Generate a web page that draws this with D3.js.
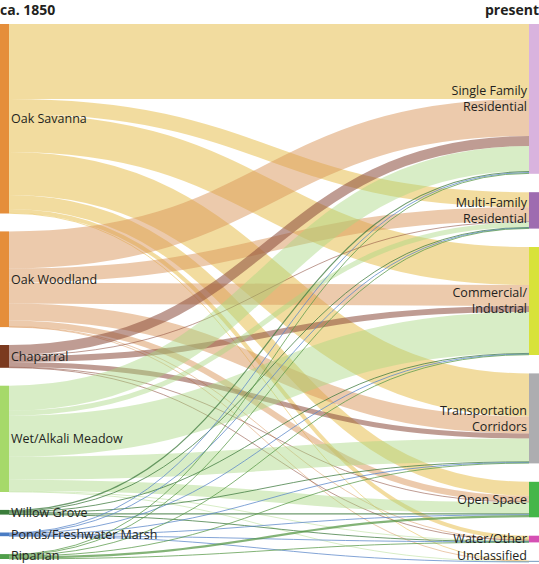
<!DOCTYPE html>
<head>
  <meta charset="utf-8">
  <script src="https://d3js.org/d3.v7.min.js"></script>
  <style>
    body {
      margin: 0;
      font-family: "Open Sans", sans-serif;
      background: #fff;
    }
    text {
      fill: #231f20;
    }
    text.label {
      font-size: 12.5px;
    }
    text.heading {
      font-size: 14px;
      font-weight: bold;
    }
    g.links path {
      fill: none;
    }
  </style>
</head>

<body>
  <div id="chart"></div>

  <script>
    // habitats ca. 1850 (left) and present land use (right)
    var sources = ["Oak Savanna", "Oak Woodland", "Chaparral", "Wet/Alkali Meadow",
                   "Willow Grove", "Ponds/Freshwater Marsh", "Riparian"];
    var targets = ["Single Family Residential", "Multi-Family Residential", "Commercial/ Industrial",
                   "Transportation Corridors", "Open Space", "Water/Other", "Unclassified"];
    var targetLines = [["Single Family", "Residential"], ["Multi-Family", "Residential"],
                       ["Commercial/", "Industrial"], ["Transportation", "Corridors"],
                       ["Open Space"], ["Water/Other"], ["Unclassified"]];

    // flow from each habitat (row) into each present land use (column)
    var flows = [
      [75,  15,  38, 43, 14,  4,   0.5],
      [37,  14,  21, 17, 6,   0.5, 0.2],
      [10,  1,   6,  5,  0.5, 0.3, 0],
      [25,  5,   41, 23, 11,  1,   0.3],
      [1.2, 0.5, 0.8, 0.8, 1.2, 0.2, 0],
      [0.8, 0.5, 0.6, 0.6, 0.6, 0.4, 0.2],
      [0.8, 0.4, 0.6, 0.6, 2.2, 0.3, 0]
    ];

    var sourceColors = ["#e58e3a", "#e58e3a", "#7b3a1f", "#a6d96a", "#3a7d3a", "#4a7cc4", "#4f9e4a"];
    var linkColors = ["#e8c050", "#d9955a", "#8a4a3a", "#a8d880", "#3d7a3d", "#5a86c8", "#5a9a4a"];
    var linkOpacity = [0.55, 0.5, 0.55, 0.45, 0.75, 0.75, 0.75];
    var targetColors = ["#d9b3de", "#9e6cb0", "#d8e23a", "#adadb0", "#45b649", "#d54fb3", "#8aa8c8"];

    var width = 539,
        height = 564,
        yTop = 24,
        leftBottom = 559,
        rightBottom = 562,
        nodeW = 9,
        xLeft = 0,
        xRight = 529;

    var svg = d3.select("#chart").append("svg")
      .attr("width", width)
      .attr("height", height);

    var sourceTotals = flows.map(function(r) { return d3.sum(r); });
    var targetTotals = targets.map(function(t, j) { return d3.sum(flows, function(r) { return r[j]; }); });
    var total = d3.sum(sourceTotals);

    // one value scale for both columns, each column spread over its own extent
    var ky = d3.scaleLinear()
      .domain([0, total])
      .range([0, total * 1.0]);

    function stack(totals, bottom) {
      var pad = ((bottom - yTop) - ky(total)) / (totals.length - 1);
      var y = yTop;
      return totals.map(function(v) {
        var n = {y0: y, y1: y + ky(v)};
        y = n.y1 + pad;
        return n;
      });
    }
    var leftNodes = stack(sourceTotals, leftBottom);
    var rightNodes = stack(targetTotals, rightBottom);

    // link offsets: at source ordered by target, at target ordered by source
    var links = [];
    var sOff = leftNodes.map(function(n) { return n.y0; });
    var tOff = rightNodes.map(function(n) { return n.y0; });
    flows.forEach(function(row, i) {
      row.forEach(function(v, j) {
        if (!v) return;
        links.push({i: i, j: j, v: v});
      });
    });
    links.forEach(function(l) {
      var w = ky(l.v);
      l.w = w;
      l.sy = sOff[l.i] + w / 2; sOff[l.i] += w;
    });
    links.slice().sort(function(a, b) { return a.j - b.j || a.i - b.i; }).forEach(function(l) {
      l.ty = tOff[l.j] + l.w / 2; tOff[l.j] += l.w;
    });

    var link = d3.linkHorizontal();

    svg.append("g").attr("class", "links")
      .selectAll("path")
      .data(links)
      .enter().append("path")
        .attr("d", function(d) {
          return link({source: [xLeft + nodeW, d.sy], target: [xRight, d.ty]});
        })
        .attr("stroke", function(d) { return linkColors[d.i]; })
        .attr("stroke-opacity", function(d) { return linkOpacity[d.i]; })
        .attr("stroke-width", function(d) { return Math.max(1, d.w); });

    svg.append("g")
      .selectAll("rect")
      .data(leftNodes)
      .enter().append("rect")
        .attr("x", xLeft)
        .attr("y", function(d) { return d.y0; })
        .attr("width", nodeW)
        .attr("height", function(d) { return Math.max(1, d.y1 - d.y0); })
        .attr("fill", function(d, i) { return sourceColors[i]; });

    svg.append("g")
      .selectAll("rect")
      .data(rightNodes)
      .enter().append("rect")
        .attr("x", xRight)
        .attr("y", function(d) { return d.y0; })
        .attr("width", nodeW + 1)
        .attr("height", function(d) { return Math.max(1, d.y1 - d.y0); })
        .attr("fill", function(d, i) { return targetColors[i]; });

    // keep labels of the lowest nodes inside the picture
    function labelY(d) {
      return Math.min((d.y0 + d.y1) / 2, height - 8);
    }

    svg.append("g")
      .selectAll("text")
      .data(leftNodes)
      .enter().append("text")
        .attr("class", "label")
        .attr("x", xLeft + nodeW + 2)
        .attr("y", labelY)
        .attr("dy", "0.35em")
        .text(function(d, i) { return sources[i]; });

    var rl = svg.append("g")
      .selectAll("text")
      .data(rightNodes)
      .enter().append("text")
        .attr("class", "label")
        .attr("text-anchor", "end")
        .attr("x", xRight - 2)
        .attr("y", labelY);
    rl.selectAll("tspan")
      .data(function(d, i) {
        var lines = targetLines[i];
        return lines.map(function(s, k) { return {s: s, k: k, off: -(lines.length - 1) * 8}; });
      })
      .enter().append("tspan")
        .attr("x", xRight - 2)
        .attr("dy", function(d) { return d.k === 0 ? (d.off + 4.4) + "px" : "16px"; })
        .text(function(d) { return d.s; });

    svg.append("text")
      .attr("class", "heading")
      .attr("x", 0)
      .attr("y", 15)
      .text("ca. 1850");
    svg.append("text")
      .attr("class", "heading")
      .attr("text-anchor", "end")
      .attr("x", width)
      .attr("y", 15)
      .text("present");
  </script>
</body>
